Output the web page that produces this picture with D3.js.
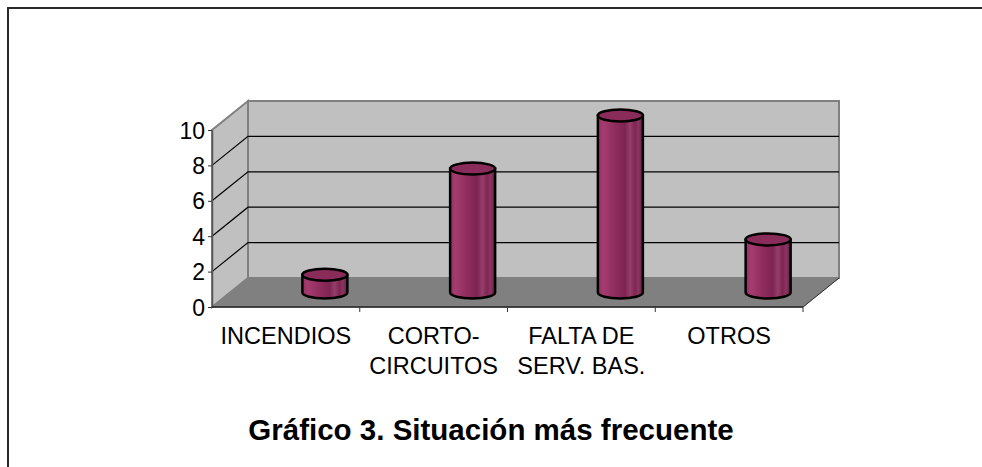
<!DOCTYPE html>
<html>
<head>
<meta charset="utf-8">
<script src="https://cdn.jsdelivr.net/npm/d3@7"></script>
<style>
  body { margin: 0; background: #fff; overflow: hidden; }
  svg text { font-family: "Liberation Sans", Arial, sans-serif; }
</style>
</head>
<body>
<div id="chart"></div>
<script>
// categories and values
let categories = ["INCENDIOS", "CORTO-CIRCUITOS", "FALTA DE SERV. BAS.", "OTROS"]
let labelLines = [["INCENDIOS"], ["CORTO-", "CIRCUITOS"], ["FALTA DE", "SERV. BAS."], ["OTROS"]]
let counts = [1, 7, 10, 3]
let yTicks = [0, 2, 4, 6, 8, 10]
let title = "Gráfico 3. Situación más frecuente"

let svg = d3.select("#chart")
  .append("svg")
  .attr("width", 982)
  .attr("height", 467)
  .style("display", "block")

let line = d3.line()

// outer frame: only top and left edges are visible
svg.append("path")
  .attr("d", line([[8, 467], [8, 8], [982, 8]]))
  .style("fill", "none")
  .style("stroke", "#2a2a2a")
  .style("stroke-width", 2)

// scales
let x = d3.scaleBand().domain(categories).range([212, 803])
let y = d3.scaleLinear().domain([0, 10]).range([307, 130])
let dx = 36, dy = -29   // depth of the 3d box

// back wall
svg.append("rect")
  .attr("x", 212 + dx).attr("y", y(10) + dy)
  .attr("width", 803 - 212).attr("height", y(0) - y(10))
  .style("fill", "#c0c0c0")
  .style("stroke", "#808080")
  .style("stroke-width", 2)

// left wall
svg.append("path")
  .attr("d", line([[212, y(0)], [212, y(10)], [212 + dx, y(10) + dy], [212 + dx, y(0) + dy]]) + "Z")
  .style("fill", "#c0c0c0")
  .style("stroke", "#808080")
  .style("stroke-width", 2)

// floor
svg.append("path")
  .attr("d", line([[212, y(0)], [803, y(0)], [803 + dx, y(0) + dy], [212 + dx, y(0) + dy]]) + "Z")
  .style("fill", "#808080")
  .style("stroke", "#808080")
  .style("stroke-width", 1)

// gridlines
svg.selectAll(".grid")
  .data(yTicks.filter(d => d > 0 && d < 10))
  .enter()
  .append("path")
  .attr("class", "grid")
  .attr("d", d => line([[212, y(d)], [212 + dx, y(d) + dy], [803 + dx, y(d) + dy]]))
  .style("fill", "none")
  .style("stroke", "#000")
  .style("stroke-width", 1.2)

// floor right edge
svg.append("path")
  .attr("d", line([[803, y(0)], [803 + dx, y(0) + dy]]))
  .style("stroke", "#333")
  .style("stroke-width", 1)

// y axis
let yAxis = svg.append("g")
  .attr("transform", "translate(212,0)")
  .call(d3.axisLeft(y).tickValues(yTicks).tickSize(4).tickPadding(3).tickSizeOuter(0))
yAxis.select(".domain").style("stroke", "#555").style("stroke-width", 1.5)
yAxis.selectAll(".tick line").style("stroke", "#333")
yAxis.selectAll("text")
  .style("font-size", "23px")
  .style("fill", "#000")
  .attr("dy", "0.35em")

// x axis line and boundary ticks
svg.append("path")
  .attr("d", line([[212, y(0)], [803, y(0)]]))
  .style("stroke", "#222")
  .style("stroke-width", 1.5)
svg.selectAll(".xtick")
  .data(categories)
  .enter()
  .append("path")
  .attr("class", "xtick")
  .attr("d", d => line([[x(d) + x.bandwidth(), y(0)], [x(d) + x.bandwidth(), y(0) + 5]]))
  .style("stroke", "#333")
  .style("stroke-width", 1)

// cylinder shading
let defs = svg.append("defs")
let grad = defs.append("linearGradient").attr("id", "cyl")
  .attr("x1", "0%").attr("x2", "100%").attr("y1", "0%").attr("y2", "0%")
let stops = [[0, "#96305f"], [0.12, "#a53c70"], [0.35, "#922e60"], [0.6, "#7f2452"],
             [0.72, "#953e6c"], [0.82, "#7d2650"], [0.9, "#8c3562"], [1, "#651a40"]]
stops.forEach(s => grad.append("stop").attr("offset", s[0]).attr("stop-color", s[1]))

let rx = 22.5, ry = 6, shiftX = 39, shiftY = -14.5

let bars = svg.selectAll(".bar")
  .data(counts.map((v, i) => ({cat: categories[i], v: v})))
  .enter()
  .append("g")
  .attr("class", "bar")

bars.append("path")
  .attr("d", d => {
    let cx = x(d.cat) + x.bandwidth() / 2 + shiftX
    let yb = y(0) + shiftY, yt = y(d.v) + shiftY
    return `M${cx - rx},${yt} L${cx - rx},${yb} A${rx},${ry} 0 0 0 ${cx + rx},${yb} L${cx + rx},${yt} Z`
  })
  .style("fill", "url(#cyl)")
  .style("stroke", "#000")
  .style("stroke-width", 2.5)

bars.append("ellipse")
  .attr("cx", d => x(d.cat) + x.bandwidth() / 2 + shiftX)
  .attr("cy", d => y(d.v) + shiftY)
  .attr("rx", rx).attr("ry", ry)
  .style("fill", "#8a2c5a")
  .style("stroke", "#000")
  .style("stroke-width", 2.5)

// category labels
let labels = svg.selectAll(".xlabel")
  .data(categories)
  .enter()
  .append("text")
  .attr("class", "xlabel")
  .attr("text-anchor", "middle")
  .style("font-size", "23.5px")
  .style("fill", "#000")
labels.selectAll("tspan")
  .data((d, i) => labelLines[i].map(t => ({t: t, c: d})))
  .enter()
  .append("tspan")
  .attr("x", d => x(d.c) + x.bandwidth() / 2)
  .attr("y", (d, j) => 344 + j * 30)
  .text(d => d.t)

// title
svg.append("text")
  .attr("x", 491)
  .attr("y", 440)
  .attr("text-anchor", "middle")
  .style("font-size", "29.5px")
  .style("font-weight", "bold")
  .style("fill", "#000")
  .text(title)
</script>
</body>
</html>
